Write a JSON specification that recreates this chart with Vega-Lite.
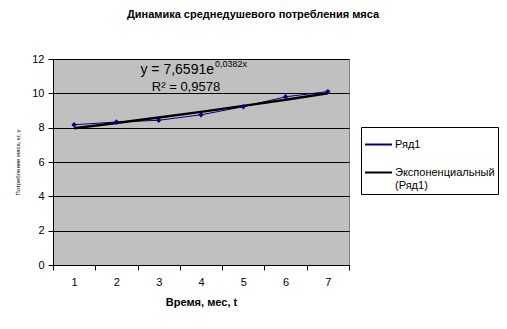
{
  "$schema": "https://vega.github.io/schema/vega-lite/v6.json",
  "width": 296,
  "height": 206,
  "autosize": {"type": "none"},
  "padding": {"left": 53, "top": 59, "right": 158, "bottom": 64},
  "background": "white",
  "title": {
    "text": "Динамика среднедушевого потребления мяса",
    "font": "Liberation Sans",
    "fontSize": 11,
    "fontWeight": "bold",
    "color": "black",
    "anchor": "middle",
    "dx": 52,
    "offset": 33
  },
  "data": {
    "values": [
      {"t": 1, "series": "Ряд1", "v": 8.17},
      {"t": 2, "series": "Ряд1", "v": 8.33},
      {"t": 3, "series": "Ряд1", "v": 8.43},
      {"t": 4, "series": "Ряд1", "v": 8.75},
      {"t": 5, "series": "Ряд1", "v": 9.22},
      {"t": 6, "series": "Ряд1", "v": 9.8},
      {"t": 7, "series": "Ряд1", "v": 10.1},
      {"t": 1, "series": "Экспоненциальный (Ряд1)", "v": 7.96},
      {"t": 2, "series": "Экспоненциальный (Ряд1)", "v": 8.27},
      {"t": 3, "series": "Экспоненциальный (Ряд1)", "v": 8.59},
      {"t": 4, "series": "Экспоненциальный (Ряд1)", "v": 8.92},
      {"t": 5, "series": "Экспоненциальный (Ряд1)", "v": 9.27},
      {"t": 6, "series": "Экспоненциальный (Ряд1)", "v": 9.63},
      {"t": 7, "series": "Экспоненциальный (Ряд1)", "v": 10.01}
    ]
  },
  "config": {
    "view": {"fill": "#C0C0C0", "stroke": "#808080", "strokeWidth": 1},
    "axis": {
      "labelFont": "Liberation Sans",
      "labelFontSize": 11,
      "labelColor": "black",
      "titleFont": "Liberation Sans",
      "titleColor": "black",
      "domainColor": "black",
      "tickColor": "black",
      "tickSize": 5
    }
  },
  "encoding": {
    "x": {
      "field": "t",
      "type": "ordinal",
      "bandPosition": 0.5,
      "scale": {"type": "band", "paddingInner": 0, "paddingOuter": 0},
      "axis": {
        "labelAngle": 0,
        "tickBand": "extent",
        "grid": false,
        "labelPadding": 6,
        "title": "Время, мес, t",
        "titleFontSize": 11,
        "titleFontWeight": "bold",
        "titlePadding": 9
      }
    },
    "y": {
      "field": "v",
      "type": "quantitative",
      "scale": {"domain": [0, 12], "nice": false, "zero": true},
      "axis": {
        "values": [0, 2, 4, 6, 8, 10, 12],
        "grid": true,
        "gridColor": "black",
        "gridOpacity": 1,
        "gridWidth": 1,
        "labelOverlap": false,
        "labelPadding": 4,
        "title": "Потребление мяса, кг, y",
        "titleFontSize": 6,
        "titleFontWeight": "normal",
        "titlePadding": 11
      }
    }
  },
  "layer": [
    {
      "transform": [{"filter": "datum.series == 'Ряд1'"}],
      "mark": {"type": "line", "strokeWidth": 1},
      "encoding": {
        "color": {
          "field": "series",
          "type": "nominal",
          "scale": {"domain": ["Ряд1", "Экспоненциальный (Ряд1)"], "range": ["#000080", "#000000"]},
          "legend": {
            "orient": "none",
            "legendX": 308,
            "legendY": 68,
            "title": null,
            "strokeColor": "black",
            "padding": 3,
            "symbolType": "M-1,0H1",
            "symbolSize": 729,
            "symbolStrokeWidth": 2,
            "labelFont": "Liberation Sans",
            "labelFontSize": 11,
            "labelColor": "black",
            "labelOffset": 2,
            "rowPadding": 8,
            "labelExpr": "datum.label == 'Экспоненциальный (Ряд1)' ? ['Экспоненциальный', '(Ряд1)'] : datum.label"
          }
        }
      }
    },
    {
      "transform": [{"filter": "datum.series != 'Ряд1'"}],
      "mark": {"type": "line", "strokeWidth": 2.5},
      "encoding": {
        "color": {"field": "series", "type": "nominal"}
      }
    },
    {
      "transform": [{"filter": "datum.series == 'Ряд1'"}],
      "mark": {"type": "point", "shape": "diamond", "filled": true, "size": 30, "opacity": 1},
      "encoding": {
        "color": {"field": "series", "type": "nominal"}
      }
    },
    {
      "data": {"values": [{"label": "y = 7,6591e", "t": 4, "v": 11.35}]},
      "mark": {"type": "text", "font": "Liberation Sans", "fontSize": 14, "fontWeight": "normal", "color": "black", "align": "right", "baseline": "middle", "dx": 13},
      "encoding": {"text": {"field": "label"}}
    },
    {
      "data": {"values": [{"label": "0,0382x", "t": 4, "v": 11.35}]},
      "mark": {"type": "text", "font": "Liberation Sans", "fontSize": 9, "fontWeight": "normal", "color": "black", "align": "left", "baseline": "middle", "dx": 14, "dy": -6},
      "encoding": {"text": {"field": "label"}}
    },
    {
      "data": {"values": [{"label": "R² = 0,9578", "t": 4, "v": 10.35}]},
      "mark": {"type": "text", "font": "Liberation Sans", "fontSize": 13, "fontWeight": "normal", "color": "black", "align": "center", "baseline": "middle", "dx": -15},
      "encoding": {"text": {"field": "label"}}
    }
  ]
}
